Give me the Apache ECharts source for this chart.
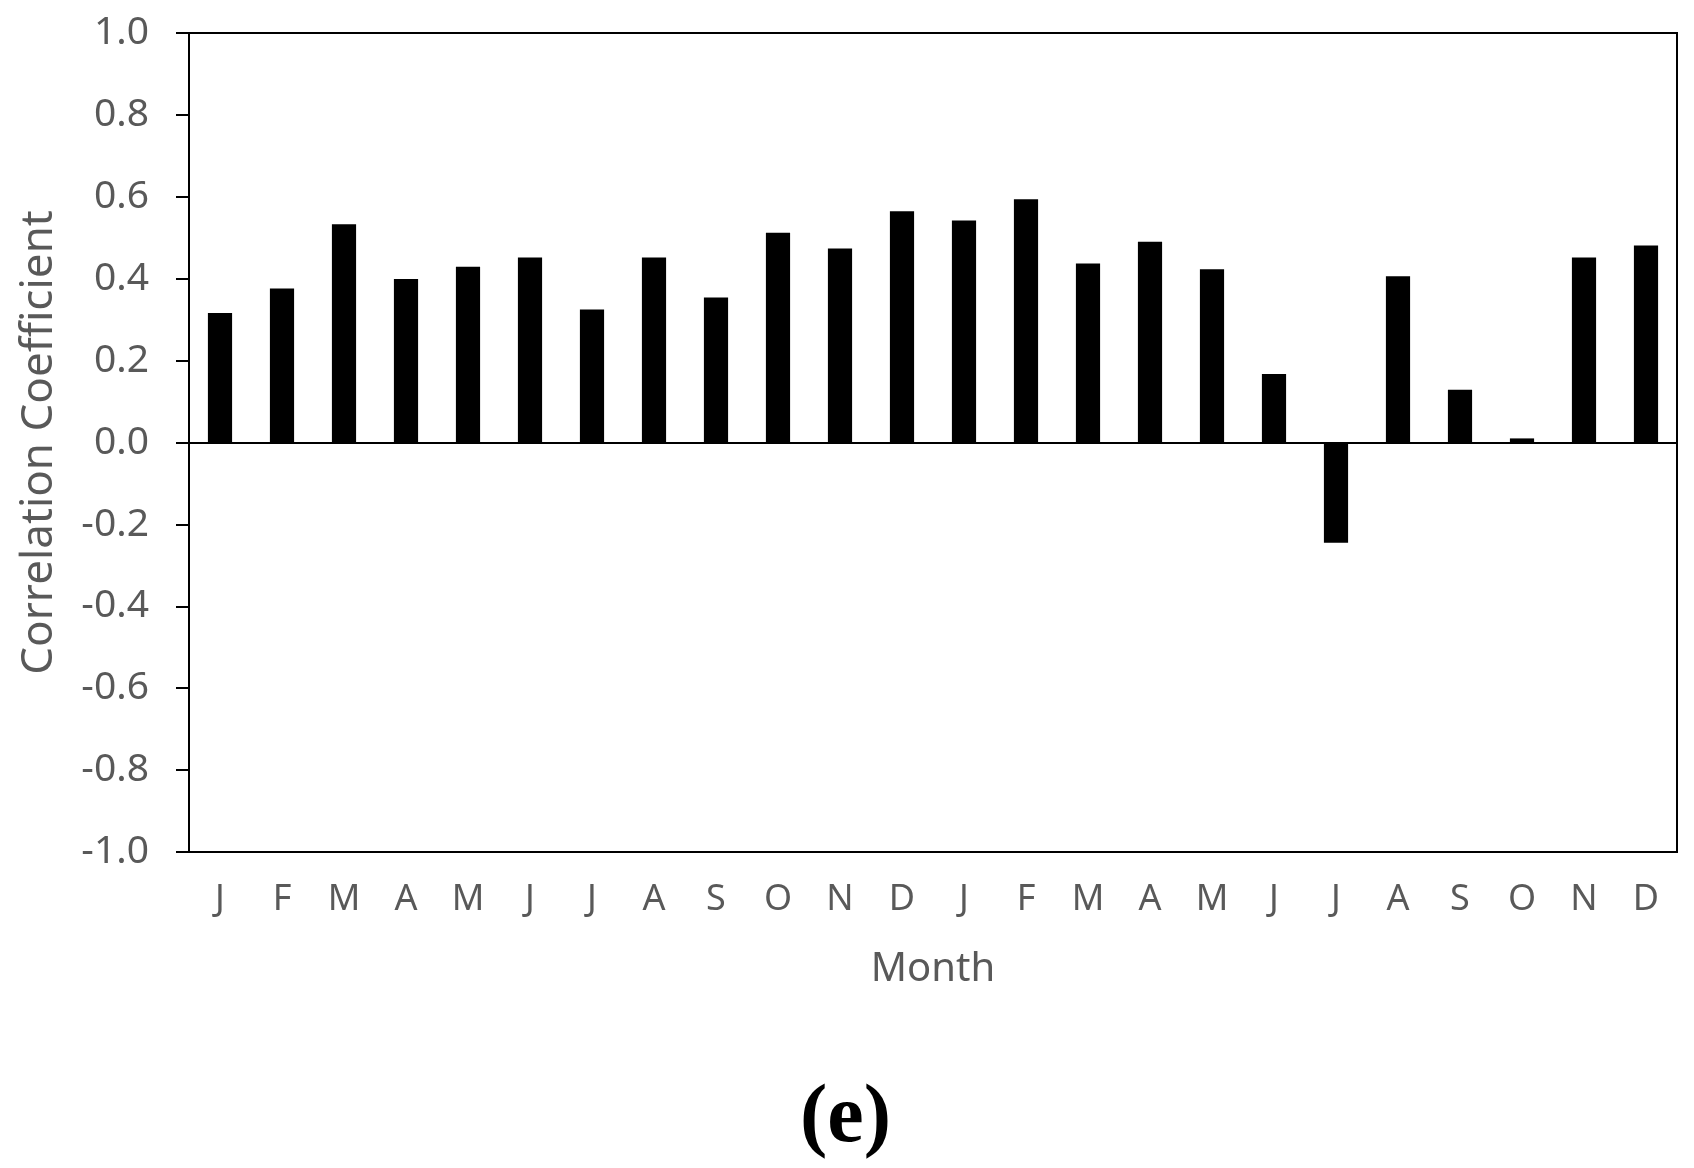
<!DOCTYPE html>
<html>
<head>
    <meta charset="UTF-8">
    <title>Correlation Coefficient by Month</title>
    <style type="text/css">
        html, body {
            margin: 0;
            padding: 0;
            background: #fff;
        }
        #main {
            width: 1694px;
            height: 1168px;
        }
    </style>
</head>
<body>
<div id="main"></div>
<script src="https://cdn.jsdelivr.net/npm/echarts@6/dist/echarts.min.js"></script>
<script>
    // month initials, two years in a row
    var months = ['J', 'F', 'M', 'A', 'M', 'J', 'J', 'A', 'S', 'O', 'N', 'D',
                  'J', 'F', 'M', 'A', 'M', 'J', 'J', 'A', 'S', 'O', 'N', 'D'];
    // correlation coefficient
    var coeff = [0.316, 0.376, 0.533, 0.399, 0.429, 0.452, 0.325, 0.452, 0.354, 0.512, 0.474, 0.565,
                 0.542, 0.594, 0.437, 0.490, 0.423, 0.167, -0.245, 0.406, 0.129, 0.010, 0.452, 0.481];
    var yMin = -1.0;
    var yMax = 1.0;
    var yStep = 0.2;

    var textGray = '#595959';
    var font = 'Noto Sans';

    var myChart = echarts.init(document.getElementById('main'));

    var option = {
        backgroundColor: '#fff',
        animation: false,
        title: {
            text: '(e)',
            left: 795,
            top: 1074,
            textStyle: {
                fontFamily: 'Liberation Serif',
                fontWeight: 'bold',
                fontSize: 82,
                color: '#000'
            }
        },
        grid: {
            left: 189,
            right: 17,
            top: 33,
            bottom: 316,
            containLabel: false,
            outerBoundsMode: 'none',
            show: true,
            borderColor: '#000',
            borderWidth: 2,
            backgroundColor: 'transparent'
        },
        xAxis: {
            type: 'category',
            data: months,
            name: 'Month',
            nameLocation: 'middle',
            nameGap: 98,
            nameTextStyle: {
                fontFamily: font,
                fontSize: 40,
                color: textGray
            },
            axisLine: {
                onZero: false,
                lineStyle: { color: '#000', width: 2 }
            },
            axisTick: { show: false },
            axisLabel: {
                margin: 30,
                fontFamily: font,
                fontSize: 36,
                color: textGray
            },
            splitLine: { show: false }
        },
        yAxis: {
            type: 'value',
            min: yMin,
            max: yMax,
            interval: yStep,
            name: 'Correlation Coefficient',
            nameLocation: 'middle',
            nameGap: 128,
            nameTextStyle: {
                fontFamily: font,
                fontSize: 44,
                color: textGray
            },
            axisLine: {
                show: true,
                lineStyle: { color: '#000', width: 2 }
            },
            axisTick: {
                show: true,
                inside: false,
                length: 13,
                lineStyle: { color: '#000', width: 2 }
            },
            axisLabel: {
                margin: 40,
                fontFamily: font,
                fontSize: 39,
                color: textGray,
                formatter: function (v) {
                    if (Math.abs(v) < 1e-9) v = 0;
                    return v.toFixed(1);
                }
            },
            splitLine: { show: false }
        },
        series: [{
            type: 'bar',
            data: coeff,
            barWidth: '39%',
            itemStyle: { color: '#000' },
            markLine: {
                silent: true,
                symbol: ['none', 'none'],
                label: { show: false },
                lineStyle: { color: '#000', width: 2, type: 'solid' },
                data: [{ yAxis: 0 }]
            }
        }]
    };

    myChart.setOption(option);
</script>
</body>
</html>
